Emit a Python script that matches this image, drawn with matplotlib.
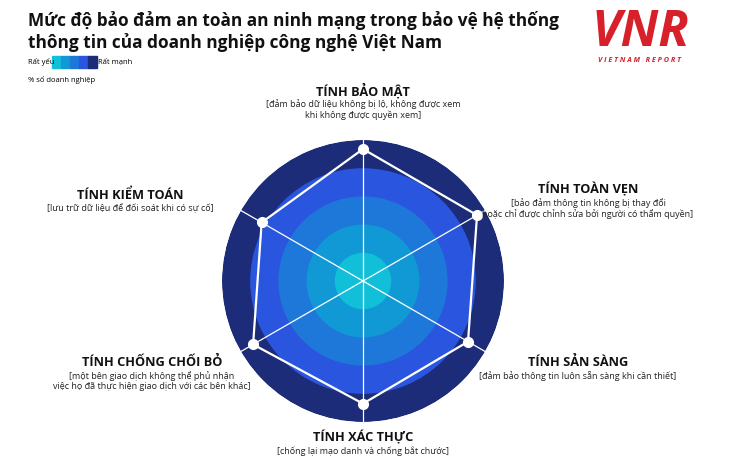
import numpy as np
import matplotlib
matplotlib.use("Agg")
import matplotlib.pyplot as plt

plt.rcParams['font.family'] = ['Open Sans', 'DejaVu Sans']

# data
categories = ["TÍNH BẢO MẬT", "TÍNH TOÀN VẸN", "TÍNH SẢN SÀNG",
              "TÍNH XÁC THỰC", "TÍNH CHỐNG CHỐI BỎ", "TÍNH KIỂM TOÁN"]
descriptions = ["[đảm bảo dữ liệu không bị lộ, không được xem\nkhi không được quyền xem]",
                "[bảo đảm thông tin không bị thay đổi\nhoặc chỉ được chỉnh sửa bởi người có thẩm quyền]",
                "[đảm bảo thông tin luôn sẵn sàng khi cần thiết]",
                "[chống lại mạo danh và chống bắt chước]",
                "[một bên giao dịch không thể phủ nhận\nviệc họ đã thực hiện giao dịch với các bên khác]",
                "[lưu trữ dữ liệu để đối soát khi có sự cố]"]
scores = [4.68, 4.67, 4.3, 4.35, 4.5, 4.15]
levels = [1, 2, 3, 4, 5]
level_colors = ["#12BFD8", "#1199D6", "#1E78DA", "#2A55DE", "#1C2C78"]

W, H = 730, 462
fig = plt.figure(figsize=(W / 100, H / 100), dpi=100)
fig.patch.set_facecolor("white")

def ftxt(x, y, s, **kw):
    fig.text(x / W, 1 - y / H, s, **kw)

# radar
cx, cy, R = 363, 281, 141
ax = fig.add_axes([(cx - R) / W, (H - cy - R) / H, 2 * R / W, 2 * R / H], projection="polar")
ax.set_theta_zero_location("N")
ax.set_theta_direction(-1)
for lv, col in zip(levels[::-1], level_colors[::-1]):
    ax.bar(0, lv, width=2 * np.pi, bottom=0, color=col, edgecolor="none", align="center")

angles = np.deg2rad(np.arange(len(categories)) * 60)
for a in angles:
    ax.plot([a, a], [0, levels[-1] * 1.02], color="white", lw=0.9, clip_on=False)
th = np.append(angles, angles[0])
vals = np.append(scores, scores[0])
ax.plot(th, vals, color="white", lw=1.6)
ax.plot(angles, scores, "o", color="white", ms=7, mec="white")
ax.set_ylim(0, levels[-1])
ax.set_xticks([])
ax.set_yticks([])
ax.grid(False)
ax.spines["polar"].set_visible(False)
ax.set_facecolor("none")

# title
ftxt(28, 20, "Mức độ bảo đảm an toàn an ninh mạng trong bảo vệ hệ thống",
     fontsize=12.4, fontweight="bold", va="center", color="#111111")
ftxt(28, 43, "thông tin của doanh nghiệp công nghệ Việt Nam",
     fontsize=12.4, fontweight="bold", va="center", color="#111111")

# legend
ftxt(28, 62, "Rất yếu", fontsize=5.5, va="center")
for i, col in enumerate(level_colors):
    fig.patches.append(plt.Rectangle(((52 + i * 9) / W, 1 - 68 / H), 9 / W, 12 / H,
                                     transform=fig.transFigure, color=col))
ftxt(98, 62, "Rất mạnh", fontsize=5.5, va="center")
ftxt(28, 80, "% số doanh nghiệp", fontsize=5.5, va="center")

# logo
ftxt(640, 33, "VNR", fontsize=36, fontweight="bold", style="italic",
     color="#D7202A", ha="center", va="center")
ftxt(640, 61, "V I E T N A M   R E P O R T", fontsize=5.2, fontweight="bold",
     style="italic", color="#D7202A", ha="center", va="center")

# category labels
label_pos = [(363, 91), (588, 190), (578, 363), (363, 438), (152, 363), (130, 195)]
for cat, desc, (x, y) in zip(categories, descriptions, label_pos):
    ftxt(x, y, cat, fontsize=9.2, fontweight="bold", ha="center", va="center", color="#111111")
    ftxt(x, y + 8, desc, fontsize=6.5, ha="center", va="top", color="#222222",
         linespacing=1.15)

fig.savefig("out.png", dpi=100, facecolor="white")
